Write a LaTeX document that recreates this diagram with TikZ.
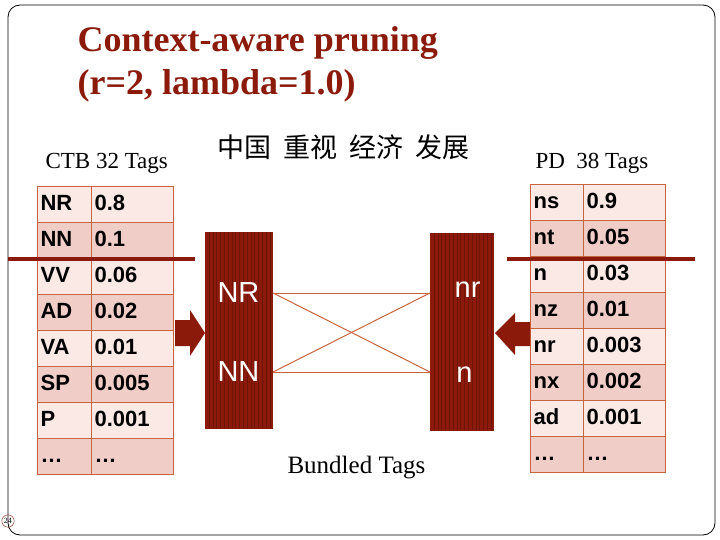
\documentclass[tikz,border=0pt]{standalone}
\usepackage{fontspec}
\setmainfont{Liberation Serif}
\newfontfamily\arial{Liberation Sans}
\newfontfamily\cjk{Noto Sans CJK SC}
\definecolor{dred}{HTML}{8B1A0A}
\definecolor{lpink}{HTML}{FBE9E6}
\definecolor{dpink}{HTML}{F1CDC8}
\definecolor{bord}{HTML}{C8643C}
\begin{document}
\begin{tikzpicture}[x=1pt,y=-1pt,
 cell/.style={draw=bord,line width=1.2pt,minimum height=36pt,inner sep=3pt,anchor=north west,text height=15pt,text depth=4pt,font=\arial\bfseries\fontsize{22}{24}\selectfont,align=left},
 blk/.style={fill=dred,draw=dred,anchor=north west},
 lnk/.style={draw=bord,line width=1pt},
 cut/.style={draw=dred,line width=3.5pt},
 big/.style={text=white,font=\arial\fontsize{29}{31}\selectfont},
 fat/.style={fill=dred}]
\useasboundingbox (0,0) rectangle (720,540);
\draw[black,line width=0.8pt,rounded corners=12pt] (8,5) rectangle (715,535);
\node[anchor=west,text=dred,font=\bfseries\fontsize{36}{43}\selectfont,align=left] (title) at (74,64) {Context-aware pruning\\(r=2, lambda=1.0)};
\node[anchor=west,font=\fontsize{23}{25}\selectfont] (ctb) at (42,163) {CTB 32 Tags};
\node[anchor=west,font=\cjk\fontsize{27}{29}\selectfont] (zh) at (214,147) {中国\ \ 重视\ \ 经济\ \ 发展};
\node[anchor=west,font=\fontsize{23}{25}\selectfont] (pd) at (532,163) {PD\ \ 38 Tags};
\node[anchor=west,font=\fontsize{25}{27}\selectfont] (bt) at (284,468) {Bundled Tags};
% left table
\foreach [count=\i from 0] \a/\b in {NR/0.8,NN/0.1,VV/0.06,AD/0.02,VA/0.01,SP/0.005,P/0.001,\dots/\dots}{
 \pgfmathsetmacro\yy{186+36*\i}
 \ifodd\i \def\fc{dpink}\else\def\fc{lpink}\fi
 \node[cell,fill=\fc,minimum width=54pt,text width=48pt] (la\i) at (37,\yy) {\a};
 \node[cell,fill=\fc,minimum width=82pt,text width=76pt] (lb\i) at (91,\yy) {\b};
}
% right table
\foreach [count=\i from 0] \a/\b in {ns/0.9,nt/0.05,n/0.03,nz/0.01,nr/0.003,nx/0.002,ad/0.001,\dots/\dots}{
 \pgfmathsetmacro\yy{184+36*\i}
 \ifodd\i \def\fc{dpink}\else\def\fc{lpink}\fi
 \node[cell,fill=\fc,minimum width=53pt,text width=47pt] (ra\i) at (530,\yy) {\a};
 \node[cell,fill=\fc,minimum width=82pt,text width=76pt] (rb\i) at (583,\yy) {\b};
}
% blocks
\node[blk,minimum width=67pt,minimum height=196pt] (L) at (205,232) {};
\node[blk,minimum width=63pt,minimum height=197pt] (R) at (430,233) {};
\foreach \k in {0,...,16} \draw[black!20!dred,line width=0.3pt] (209+3.8*\k,232) -- (209+3.8*\k,428);
\foreach \k in {0,...,15} \draw[black!20!dred,line width=0.3pt] (434+3.8*\k,233) -- (434+3.8*\k,430);
\node[anchor=west,big] (nrL) at (214,293) {NR};
\node[anchor=west,big] (nnL) at (214,372) {NN};
\node[anchor=east,big] (nrR) at (484,290) {nr};
\node[anchor=east,big] (nR) at (476,375) {n};
\coordinate (l1) at (273,293); \coordinate (l2) at (273,372);
\coordinate (r1) at (430,293); \coordinate (r2) at (430,372);
\draw[lnk] (l1) -- (r1); \draw[lnk] (l2) -- (r2); \draw[lnk] (l1) -- (r2); \draw[lnk] (l2) -- (r1);
% arrows
\fill[fat] (175,320) -- (190,320) -- (190,310) -- (205,333) -- (190,356) -- (190,346) -- (175,346) -- cycle;
\fill[fat] (530,322) -- (515,322) -- (515,313) -- (495,333) -- (515,355) -- (515,346) -- (530,346) -- cycle;
% cut lines
\draw[cut] (8,259) -- (195,259);
\draw[cut] (507,259) -- (695,259);
% page number
\node[draw=dred,circle,inner sep=1pt,font=\fontsize{8}{9}\selectfont] (pg) at (8,521) {24};
\end{tikzpicture}
\end{document}
